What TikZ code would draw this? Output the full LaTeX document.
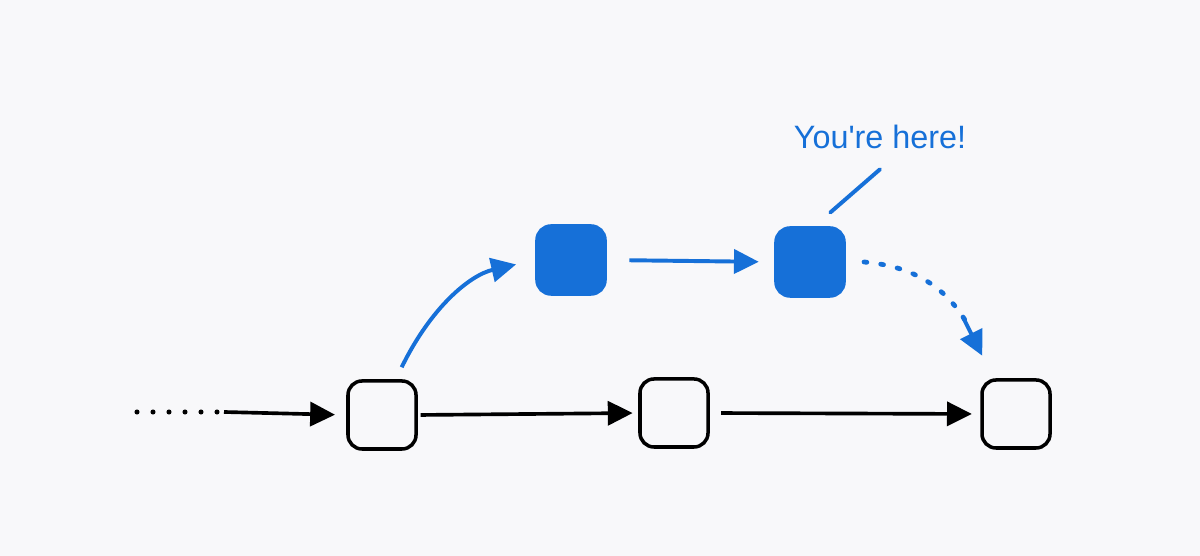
\documentclass[tikz,border=0pt]{standalone}
\usepackage{fontspec}
\setmainfont{Liberation Sans}
\usetikzlibrary{arrows.meta}
\definecolor{bg}{HTML}{F8F8FA}
\definecolor{gitblue}{HTML}{1670D8}
\begin{document}
\begin{tikzpicture}[x=0.025cm, y=0.025cm,
    commit/.style={draw=black, line width=2.5pt, rounded corners=0.35cm, minimum size=1.7cm, inner sep=0pt},
    bluecommit/.style={draw=gitblue, fill=gitblue, line width=2.5pt, rounded corners=0.35cm, minimum size=1.7cm, inner sep=0pt},
    head/.style={-{Triangle[length=0.62cm, width=0.6cm]}},
    dots/.style={line width=3.6pt, line cap=round, dash pattern=on 0pt off 0.4cm}]
    % background and margins
    \fill[bg] (0,0) rectangle (1200,556);
    \useasboundingbox (0,0) rectangle (1200,556);

    % main line of commits
    \node[commit] (c1) at (382,141) {};
    \node[commit] (c2) at (674,143) {};
    \node[commit] (c3) at (1016,142) {};
    \coordinate (start) at (137,144);
    \coordinate (lead) at (224,144);

    % branch commits
    \node[bluecommit] (b1) at (571,296) {};
    \node[bluecommit] (b2) at (810,294) {};

    % label
    \node[text=gitblue, font=\fontsize{23}{27}\selectfont] (here) at (880,419) {You\textquotesingle re here!};

    % black arrows
    \draw[dots] (start) -- (lead);
    \draw[line width=2.6pt, head, shorten >=8] (lead) -- (c1.west);
    \draw[line width=2.6pt, head, shorten <=2, shorten >=4] (c1.east) -- (c2.west);
    \draw[line width=2.6pt, head, shorten <=8, shorten >=6] (c2.east) -- (c3.west);

    % blue arrows
    \draw[gitblue, line width=2.8pt, head, shorten >=14]
        ([xshift=14]c1.north) ++(0,12) to[out=64, in=193] (b1.west);
    \draw[gitblue, line width=2.8pt, head, shorten <=16, shorten >=11] (b1.east) -- (b2.west);
    \draw[gitblue, line width=3.4pt, line cap=round, dash pattern=on 2pt off 0.35cm]
        ([xshift=13]b2.east) to[out=-5, in=118] ([xshift=-32,yshift=34]c3.north);
    \draw[gitblue, line width=2.8pt, head] ([xshift=-38,yshift=44]c3.north) -- ([xshift=-24,yshift=16]c3.north);
    \draw[gitblue, line width=2.8pt, line cap=round, shorten <=4] (b2.north) ++(16,10) -- ([yshift=-11]here.south);
\end{tikzpicture}
\end{document}
